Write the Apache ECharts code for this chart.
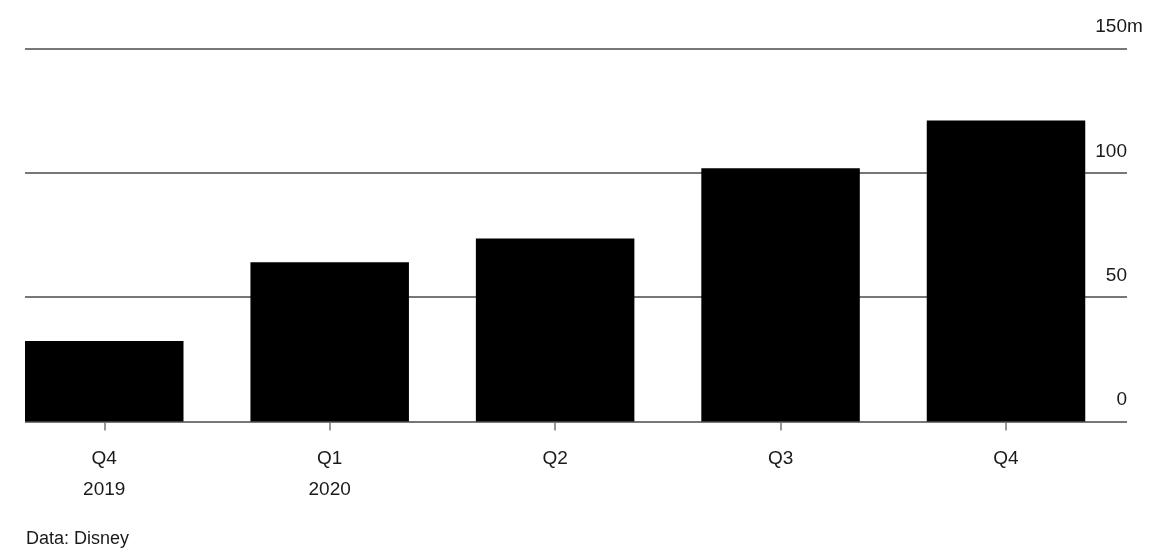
<!DOCTYPE html>
<html>
<head>
<meta charset="utf-8">
<script src="https://cdn.jsdelivr.net/npm/echarts@6/dist/echarts.min.js"></script>
<style>
html,body{margin:0;padding:0;background:#fff;}
#c{width:1149px;height:559px;}
</style>
</head>
<body>
<div id="c"></div>
<script>
const quarters = ['Q4', 'Q1', 'Q2', 'Q3', 'Q4'];
const years = ['2019', '2020', '', '', ''];
const subscribers = [32.4, 64, 73.6, 101.8, 121];
const yTicks = [0, 50, 100, 150];
const unit = 'm';
const source = 'Data: Disney';

const categories = quarters.map((q, i) => years[i] ? q + '\n' + years[i] : q);
const FONT = '"Liberation Sans", Arial, sans-serif';
const TXT = '#1a1a1a';
const GRID = '#777';
const yMin = yTicks[0], yMax = yTicks[yTicks.length - 1], yStep = yTicks[1] - yTicks[0];

const chart = echarts.init(document.getElementById('c'), null, {renderer: 'canvas'});
chart.setOption({
  animation: false,
  backgroundColor: '#fff',
  title: {
    text: source, left: 26, top: 530, padding: 0,
    textStyle: {fontFamily: FONT, fontSize: 18, fontWeight: 'normal', color: TXT}
  },
  grid: [
    {left: 104.25, right: 143, top: 48.5, bottom: 137.5, containLabel: false},
    {left: 25, right: 22, top: 48.5, bottom: 137.5, containLabel: false}
  ],
  xAxis: [
    {
      type: 'category', gridIndex: 0, data: categories, boundaryGap: false,
      axisLine: {show: false},
      axisTick: {show: true, length: 9, lineStyle: {color: GRID, width: 1.5}},
      axisLabel: {margin: 22, fontFamily: FONT, fontSize: 19, color: TXT, lineHeight: 31}
    },
    {type: 'value', gridIndex: 1, show: false, min: 0, max: 1}
  ],
  yAxis: [
    {type: 'value', gridIndex: 0, min: yMin, max: yMax, interval: yStep, show: false},
    {
      type: 'value', gridIndex: 1, position: 'right', min: yMin, max: yMax, interval: yStep,
      axisLine: {show: false}, axisTick: {show: false},
      splitLine: {show: true, lineStyle: {color: GRID, width: 2}},
      axisLabel: {
        inside: true, margin: 0, align: 'right', verticalAlign: 'bottom',
        padding: [0, 0, 12, 0], fontFamily: FONT, fontSize: 19, color: TXT
      }
    },
    {
      type: 'value', gridIndex: 1, position: 'right', min: yMin, max: yMax, interval: yStep,
      axisLine: {show: false}, axisTick: {show: false}, splitLine: {show: false},
      axisLabel: {
        inside: false, margin: 0, align: 'left', verticalAlign: 'bottom',
        padding: [0, 0, 12, 0], fontFamily: FONT, fontSize: 19, color: TXT,
        formatter: v => (v === yMax ? unit : '')
      }
    }
  ],
  series: [
    {
      type: 'bar', xAxisIndex: 0, yAxisIndex: 0, data: subscribers,
      barWidth: 158.5, clip: false, itemStyle: {color: '#000'}, z: 5
    }
  ]
});
</script>
</body>
</html>
